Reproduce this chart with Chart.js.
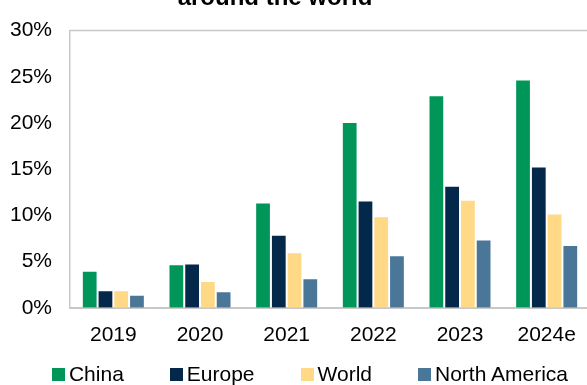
<!DOCTYPE html>
<html>
<head>
<meta charset="utf-8">
<script src="https://cdn.jsdelivr.net/npm/chart.js@4.4.1/dist/chart.umd.min.js"></script>
<style>
  html, body { margin: 0; padding: 0; background: #fff; overflow: hidden; }
  body { width: 587px; height: 385px; position: relative; }
  #wrap { position: absolute; left: 0; top: 0; width: 620px; height: 385px; }
  #legend {
    position: absolute; left: 0; top: 363px; width: 620px;
    display: flex; justify-content: center; gap: 46px;
    font: 21px 'Liberation Sans', Arial, sans-serif; line-height: 22px; color: #000;
  }
  #legend .item { display: flex; align-items: center; white-space: nowrap; }
  #legend .box { width: 13px; height: 13px; margin-right: 4px; }
</style>
</head>
<body>
<div id="wrap"><canvas id="myChart" width="620" height="385"></canvas></div>
<div id="legend"></div>
<script>
const years = ['2019', '2020', '2021', '2022', '2023', '2024e'];
const china = [4.0, 4.7, 11.4, 20.1, 23.0, 24.7];
const europe = [1.9, 4.8, 7.9, 11.6, 13.2, 15.3];
const world = [1.9, 2.9, 6.0, 9.9, 11.7, 10.2];
const northAmerica = [1.4, 1.8, 3.2, 5.7, 7.4, 6.8];
const yTicks = [0, 5, 10, 15, 20, 25, 30];

const font = "'Liberation Sans', Arial, sans-serif";
const axisGrey = '#c8c8c8';

// second line of the heading, the first one sits above the canvas
const heading = {
    id: 'heading',
    afterDraw(chart) {
        const c = chart.ctx;
        c.save();
        c.font = 'bold 24px ' + font;
        c.fillStyle = '#000';
        c.textAlign = 'center';
        c.textBaseline = 'alphabetic';
        c.fillText('around the world', 275, 5);
        c.restore();
    }
};

// thin frame line along the top of the plot
const topLine = {
    id: 'topLine',
    afterDatasetsDraw(chart) {
        const a = chart.chartArea;
        const c = chart.ctx;
        c.save();
        c.strokeStyle = axisGrey;
        c.lineWidth = 1.5;
        c.beginPath();
        c.moveTo(a.left, a.top);
        c.lineTo(a.right, a.top);
        c.stroke();
        c.restore();
    }
};

// legend as html under the canvas, built from the chart's own legend items
const htmlLegend = {
    id: 'htmlLegend',
    afterUpdate(chart) {
        const box = document.getElementById('legend');
        box.innerHTML = '';
        const items = chart.options.plugins.legend.labels.generateLabels(chart);
        items.forEach(item => {
            const el = document.createElement('span');
            el.className = 'item';
            const sw = document.createElement('span');
            sw.className = 'box';
            sw.style.background = item.fillStyle;
            el.appendChild(sw);
            el.appendChild(document.createTextNode(item.text));
            box.appendChild(el);
        });
    }
};

function series(label, values, color) {
    return {
        label: label,
        data: values,
        backgroundColor: color,
        borderColor: 'rgba(255,255,255,0.35)',
        borderWidth: 1,
        borderSkipped: 'bottom'
    };
}

const ctx = document.getElementById('myChart');
new Chart(ctx, {
    type: 'bar',
    data: {
        labels: years,
        datasets: [
            series('China', china, '#00965a'),
            series('Europe', europe, '#03284a'),
            series('World', world, '#ffd985'),
            series('North America', northAmerica, '#4a7798')
        ]
    },
    options: {
        responsive: false,
        animation: false,
        devicePixelRatio: 1,
        layout: { padding: { top: 20, right: 30, bottom: 22, left: 0 } },
        datasets: {
            bar: { categoryPercentage: 0.727, barPercentage: 1 }
        },
        scales: {
            x: {
                grid: { display: false, drawTicks: false },
                border: { display: true, color: axisGrey, width: 2 },
                ticks: { color: '#000', font: { family: font, size: 21 }, padding: 15, maxRotation: 0 }
            },
            y: {
                min: 0,
                max: 30,
                afterFit(scale) { scale.width = 70; },
                afterBuildTicks(scale) { scale.ticks = yTicks.map(v => ({ value: v })); },
                grid: { display: false, drawTicks: false },
                border: { display: true, color: axisGrey, width: 1.5 },
                ticks: {
                    color: '#000',
                    font: { family: font, size: 21 },
                    padding: 18,
                    callback: v => v + '%'
                }
            }
        },
        plugins: {
            title: { display: false },
            tooltip: { enabled: false },
            legend: { display: false }
        }
    },
    plugins: [heading, topLine, htmlLegend]
});
</script>
</body>
</html>
